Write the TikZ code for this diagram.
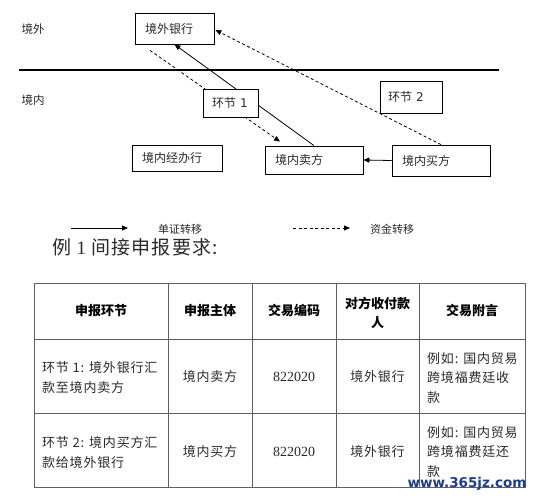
\documentclass[tikz,border=0pt]{standalone}
\usepackage{fontspec}
\setmainfont{Liberation Serif}
\newfontfamily\cjk{Noto Sans CJK SC}
\newfontfamily\cjksp{Noto Sans CJK SC}[LetterSpace=6]
\newfontfamily\wmfont{DejaVu Sans}
\usetikzlibrary{arrows.meta}
\definecolor{txt}{HTML}{2A2A2A}
\definecolor{grid}{HTML}{606060}
\definecolor{wmblue}{HTML}{1F3C8C}
\begin{document}
\begin{tikzpicture}[x=1pt,y=-1pt,
  box/.style={draw, line width=0.8pt, fill=white, rectangle, inner xsep=10pt, inner ysep=0pt,
    align=left, text=txt, font=\cjk\fontsize{12}{14}\selectfont},
  lbl/.style={inner sep=0pt, text=txt, font=\cjk\fontsize{11.5}{14}\selectfont},
  tip/.style={-{Triangle[length=6pt,width=5pt]}},
  solidarrow/.style={tip, line width=0.8pt},
  dasharrow/.style={tip, line width=0.8pt, dash pattern=on 3pt off 2.5pt},
  tline/.style={grid, line width=0.9pt},
  thead/.style={inner sep=0pt, align=center, text=black, font=\cjk\bfseries\fontsize{13}{19}\selectfont},
  tcell/.style={inner sep=0pt, align=center, text=txt, font=\cjksp\fontsize{13}{19.5}\selectfont},
  tleft/.style={inner sep=0pt, align=left, anchor=west, text=txt, font=\cjksp\fontsize{13}{19.3}\selectfont},
  tnum/.style={inner sep=0pt, text=txt, font=\fontsize{14}{16}\selectfont}
]
\useasboundingbox (0,0) rectangle (533,500);

% region labels and border line
\node[lbl] (outside) at (33,29) {境外};
\node[lbl] (inside) at (33,100) {境内};
\coordinate (bl) at (19,70);
\coordinate (br) at (499,70);
\draw[line width=1.2pt] (bl) -- (br);

% main boxes
\node[box, text width=59pt, minimum height=31pt] (bank) at (174.5,28.5) {境外银行};
\node[box, text width=70pt, minimum height=26pt] (agent) at (177,158) {境内经办行};
\node[box, text width=78pt, minimum height=28pt] (seller) at (314,160) {境内卖方};
\node[box, text width=78pt, minimum height=31pt] (buyer) at (441,160.5) {境内买方};

% connectors
\draw[solidarrow] (seller.north) -- (bank.south);
\draw[dasharrow] ([xshift=-24.5pt,yshift=-6pt]bank.south) -- ([xshift=-34pt,yshift=4pt]seller.north);
\draw[dasharrow] (buyer.north) -- ([xshift=1pt,yshift=-1.5pt]bank.east);
\draw[solidarrow] (buyer.west) -- (seller.east);

% step boxes (on top of lines)
\node[box, inner xsep=9pt, text width=37pt, minimum height=28pt] (step1) at (230.5,103) {环节 {\wmfont 1}};
\node[box, inner xsep=8pt, text width=46pt, minimum height=32pt] (step2) at (411,97) {环节 {\wmfont 2}};

% legend
\coordinate (la) at (71,228);
\coordinate (lb) at (128,228);
\draw[solidarrow] (la) -- (lb);
\node[lbl, font=\cjk\fontsize{11}{13}\selectfont] (ltxt1) at (180,229) {单证转移};
\coordinate (lc) at (293,228);
\coordinate (ld) at (350,228);
\draw[dasharrow] (lc) -- (ld);
\node[lbl, font=\cjk\fontsize{11}{13}\selectfont] (ltxt2) at (392,229) {资金转移};

% title
\node[inner sep=0pt, anchor=west, text=txt, font=\cjksp\fontsize{19}{22}\selectfont] (title) at (52,247) {例 {\fontspec{Liberation Serif}1} 间接申报要求:};

% table grid
\draw[tline] (34,283) rectangle (525,487);
\foreach \xx in {168,252,336,419} \draw[tline] (\xx,283) -- (\xx,487);
\foreach \yy in {339,413} \draw[tline] (34,\yy) -- (525,\yy);

% header
\node[thead] (h1) at (101,311) {申报环节};
\node[thead] (h2) at (210,311) {申报主体};
\node[thead] (h3) at (294,311) {交易编码};
\node[thead] (h4) at (377.5,312.5) {对方收付款\\人};
\node[thead] (h5) at (472,311) {交易附言};

% row 1
\node[tleft] (r1c1) at (42,377.5) {环节 1: 境外银行汇\\款至境内卖方};
\node[tcell] (r1c2) at (210,377) {境内卖方};
\node[tnum] (r1c3) at (294,377) {822020};
\node[tcell] (r1c4) at (377.5,377) {境外银行};
\node[tleft] (r1c5) at (427,378) {例如: 国内贸易\\跨境福费廷收\\款};

% row 2
\node[tleft] (r2c1) at (42,452.5) {环节 2: 境内买方汇\\款给境外银行};
\node[tcell] (r2c2) at (210,452) {境内买方};
\node[tnum] (r2c3) at (294,452) {822020};
\node[tcell] (r2c4) at (377.5,452) {境外银行};
\node[tleft] (r2c5) at (427,452) {例如: 国内贸易\\跨境福费廷还\\款};

% watermark
\node[inner sep=0pt, text=wmblue, font=\wmfont\bfseries\fontsize{13.5}{15}\selectfont] (wm) at (467,484) {www.365jz.com};
\end{tikzpicture}
\end{document}
